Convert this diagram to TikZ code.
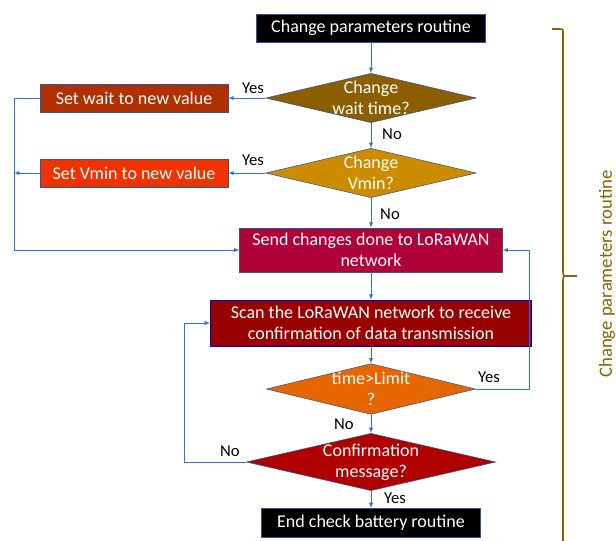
\documentclass[tikz,border=0pt]{standalone}
\usepackage{fontspec}
\setmainfont{Carlito}
\usetikzlibrary{arrows,shapes.geometric}
\definecolor{flowline}{RGB}{46,117,197}
\definecolor{edgeblue}{RGB}{47,85,151}
\definecolor{bracecol}{RGB}{139,96,0}
\definecolor{waitcol}{RGB}{139,94,0}
\definecolor{vmincol}{RGB}{204,140,0}
\definecolor{setwaitcol}{RGB}{176,48,0}
\definecolor{setvmincol}{RGB}{238,50,0}
\definecolor{sendcol}{RGB}{176,0,56}
\definecolor{scancol}{RGB}{153,0,0}
\definecolor{limitcol}{RGB}{230,102,0}
\definecolor{confcol}{RGB}{176,0,0}
\tikzset{%
terminal/.style={draw=edgeblue,fill=black,text=white,minimum width=164pt,minimum height=22pt,inner sep=1pt},
process/.style={draw=edgeblue,text=white,minimum width=141pt,minimum height=21pt,inner sep=1pt,align=center},
decision/.style={diamond,draw=edgeblue,text=white,inner xsep=0pt,inner ysep=-3pt,aspect=4,align=center},
answer/.style={font=\fontsize{12.5}{14}\selectfont},
flow/.style={draw=flowline,-latex},
plain/.style={draw=flowline}
}
\begin{document}
\begin{tikzpicture}[x=0.75pt,y=-0.75pt,font=\fontsize{13.5}{16}\selectfont]
\useasboundingbox (0,0) rectangle (616,540);
\node[terminal,minimum width=172pt,minimum height=21pt] (start)   at (371,28)  {Change parameters routine};
\node[decision,fill=waitcol,minimum width=158pt,
        minimum height=37pt]                         (waitq)   at (371,98)  {Change\\wait time?};
\node[process,fill=setwaitcol]                       (setwait) at (134,98)  {Set wait to new value};
\node[decision,fill=vmincol,minimum width=158pt,
        minimum height=37pt]                         (vminq)   at (371,173) {Change\\Vmin?};
\node[process,fill=setvmincol]                       (setvmin) at (134,173) {Set Vmin to new value};
\node[process,fill=sendcol,minimum width=197pt,
        minimum height=33pt]                         (send)    at (371,250) {Send changes done to LoRaWAN\\network};
\node[process,fill=scancol,draw=blue!80!black,minimum width=241pt,
        minimum height=34.5pt]                       (scan)    at (371,323) {Scan the LoRaWAN network to receive\\confirmation of data transmission};
\node[decision,fill=limitcol,minimum width=157pt,
        minimum height=38pt]                         (limitq)  at (371,389) {time>Limit\\?};
\node[decision,fill=confcol,minimum width=187pt,
        minimum height=43pt]                         (confq)   at (371,462) {Confirmation\\message?};
\node[terminal]                                      (stop)    at (371,523) {End check battery routine};

% answers
\node[answer] (yes1) at (253,88)  {Yes};
\node[answer] (no1)  at (392,134) {No};
\node[answer] (yes2) at (253,160) {Yes};
\node[answer] (no2)  at (390,214) {No};
\node[answer] (yes3) at (489,377) {Yes};
\node[answer] (no3)  at (344,424) {No};
\node[answer] (no4)  at (230,451) {No};
\node[answer] (yes4) at (395,498) {Yes};

\coordinate (lwait) at (14,98);
\coordinate (lvmin) at (14,173);
\coordinate (rlim)  at (529,250);
\coordinate (lconf) at (184,323);

\foreach \m/\c in {start/waitq,
                   waitq/vminq,
                   vminq/send,
                   send/scan,
                   scan/limitq,
                   limitq/confq,
                   confq/stop}
{
  \draw[flow] (\m.south) -- (\c.north);
}
\foreach \m/\c in {waitq/setwait,
                   vminq/setvmin}
{
  \draw[flow] (\m.west) -- (\c.east);
}
\draw[flow]  (setvmin.west) -- (lvmin);
\draw[flow]  (setwait.west) -- (lwait) |- (send.west);
\draw[flow]  (limitq.east) -| (rlim) -- (send.east);
\draw[flow]  (confq.west) -| (lconf) -- (scan.west);

% brace
\draw[bracecol,line width=1.2pt] (552,29) -- (560,29) .. controls (563,29) .. (563,33) -- (563,271)
     .. controls (563,276) .. (568,276) -- (577,276);
\draw[bracecol,line width=1.2pt] (568,276) .. controls (563,276) .. (563,281) -- (563,545);
\node[rotate=90,text=bracecol,font=\fontsize{14}{16}\selectfont] (bracetext) at (607,274) {Change parameters routine};
\end{tikzpicture}
\end{document}
